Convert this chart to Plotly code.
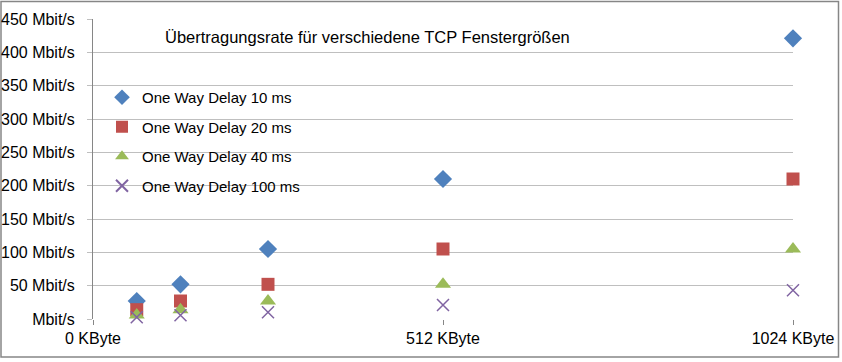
import plotly.graph_objects as go

window_kbyte = [64, 128, 256, 512, 1024]
series_names = ["One Way Delay 10 ms", "One Way Delay 20 ms",
                "One Way Delay 40 ms", "One Way Delay 100 ms"]
rate_10ms = [27, 52, 105, 210, 421]
rate_20ms = [14, 27, 52, 105, 210]
rate_40ms = [6, 14, 27, 52, 105]
rate_100ms = [2.5, 5.5, 10, 21, 43]

y_tickvals = [0, 50, 100, 150, 200, 250, 300, 350, 400, 450]
y_ticktext = ["Mbit/s"] + [f"{v} Mbit/s" for v in y_tickvals[1:]]
x_tickvals = [0, 512, 1024]
x_ticktext = ["0 KByte", "512 KByte", "1024 KByte"]
title_text = "Übertragungsrate für verschiedene TCP Fenstergrößen"

colors = ["#4F81BD", "#C0504D", "#9BBB59", "#8064A2"]
symbols = ["diamond", "square", "triangle-up", "x-thin"]
sizes = [14, 13, 14, 12]
series = [rate_10ms, rate_20ms, rate_40ms, rate_100ms]

FONT = "Liberation Sans"
fig = go.Figure()
for i, (name, vals) in enumerate(zip(series_names, series)):
    marker = dict(color=colors[i], symbol=symbols[i], size=sizes[i])
    if symbols[i] == "x-thin":
        marker["line"] = dict(color=colors[i], width=1.5)
    fig.add_trace(go.Scatter(x=window_kbyte, y=vals, mode="markers", name=name,
                             legendgroup=f"g{i}", marker=marker, cliponaxis=False))

W, H = 842, 362
L, R, T, B = 93, 49, 19, 43
pw, ph = W - L - R, H - T - B

def px2paper(px, py):
    return (px - L) / pw, (H - B - py) / ph

x0, y1 = px2paper(1, 1.5)
x1, y0 = px2paper(838.5, 357)
lx, ly = px2paper(102, 81)

fig.update_layout(
    width=W, height=H,
    margin=dict(l=L, r=R, t=T, b=B, autoexpand=False),
    paper_bgcolor="white", plot_bgcolor="white",
    font=dict(family=FONT, size=16, color="#000000"),
    showlegend=True,
    legend=dict(x=lx, y=ly, xanchor="left", yanchor="top",
                bgcolor="rgba(0,0,0,0)", font=dict(family=FONT, size=15),
                itemsizing="constant", traceorder="grouped", tracegroupgap=7),
    xaxis=dict(range=[0, 1024], tickvals=x_tickvals, ticktext=x_ticktext,
               showgrid=False, zeroline=False, showline=False, automargin=False,
               ticks="outside", ticklen=5, tickcolor="#868686",
               tickfont=dict(family=FONT, size=16)),
    yaxis=dict(range=[0, 450], tickvals=y_tickvals, ticktext=y_ticktext,
               showgrid=True, gridcolor="#BFBFBF", gridwidth=1, automargin=False,
               zeroline=False, showline=True, linecolor="#868686", linewidth=1,
               ticks="outside", ticklen=5, tickcolor="#BFBFBF",
               ticklabelstandoff=9,
               tickfont=dict(family=FONT, size=16)),
    annotations=[dict(text=title_text, xref="paper", yref="paper",
                      x=px2paper(163, 0)[0], y=px2paper(0, 37)[1],
                      xanchor="left", yanchor="middle",
                      showarrow=False, font=dict(family=FONT, size=16.5))],
    shapes=[dict(type="rect", xref="paper", yref="paper",
                 x0=x0, x1=x1, y0=y0, y1=y1,
                 line=dict(color="#868686", width=1.5), layer="below")],
)
fig.write_html("out.html", config={"displayModeBar": False},
               post_script="document.body.style.margin='0';")
